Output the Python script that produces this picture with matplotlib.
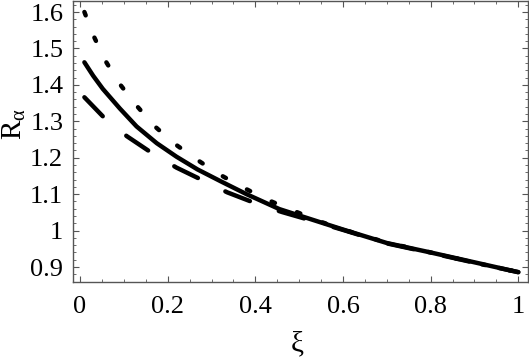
import numpy as np
import matplotlib.pyplot as plt
from matplotlib.ticker import MultipleLocator, FuncFormatter

plt.rcParams['font.family'] = ['Liberation Serif', 'DejaVu Serif']
plt.rcParams['mathtext.fontset'] = 'custom'
plt.rcParams['mathtext.rm'] = 'Liberation Serif'
plt.rcParams['mathtext.it'] = 'Liberation Serif'
plt.rcParams['lines.scale_dashes'] = False

# values
xi_dot = [0.01, 0.03, 0.057, 0.089, 0.127, 0.168, 0.214, 0.264, 0.314, 0.368,
          0.423, 0.482, 0.55, 0.6, 0.7, 0.8, 0.9, 1.0]
r_dot = [1.600, 1.537, 1.468, 1.405, 1.346, 1.289, 1.240, 1.197, 1.157, 1.121,
         1.087, 1.057, 1.024, 1.003, 0.967, 0.940, 0.912, 0.886]

xi_solid = [0.01, 0.03, 0.052, 0.091, 0.129, 0.175, 0.22, 0.268, 0.32, 0.38,
            0.455, 0.53, 0.6, 0.7, 0.8, 0.9, 1.0]
r_solid = [1.462, 1.425, 1.389, 1.335, 1.286, 1.240, 1.203, 1.168, 1.136, 1.100,
           1.059, 1.030, 1.003, 0.966, 0.940, 0.913, 0.886]

xi_dash = [0.01, 0.055, 0.107, 0.164, 0.22, 0.28, 0.336, 0.405, 0.461, 0.53,
           0.6, 0.7, 0.8, 0.9, 1.0]
r_dash = [1.366, 1.310, 1.259, 1.213, 1.173, 1.138, 1.105, 1.073, 1.051, 1.027,
          1.002, 0.965, 0.939, 0.912, 0.886]

fig = plt.figure(figsize=(5.29, 3.59), dpi=100)
ax = fig.add_axes([0.138, 0.2145, 0.860, 0.7825])

lw = 3.2
ax.plot(xi_dot, r_dot, color='black', lw=lw, solid_capstyle='round',
        dash_capstyle='round', linestyle=(0, (2.6, 17.2)))
ax.plot(xi_solid, r_solid, color='black', lw=lw, solid_capstyle='round')
ax.plot(xi_dash, r_dash, color='black', lw=lw, dash_capstyle='round',
        linestyle=(0, (19.0, 22.0)))

ax.set_xlim(-0.016, 1.022)
ax.set_ylim(0.859, 1.630)

ax.xaxis.set_major_locator(MultipleLocator(0.2))
ax.xaxis.set_minor_locator(MultipleLocator(0.05))
ax.yaxis.set_major_locator(MultipleLocator(0.1))
ax.yaxis.set_minor_locator(MultipleLocator(0.02))
fmt = FuncFormatter(lambda v, p: ('%.1f' % v).rstrip('0').rstrip('.') if abs(v) > 1e-9 else '0')
ax.xaxis.set_major_formatter(fmt)
ax.yaxis.set_major_formatter(fmt)

frame = '#555555'
for s in ax.spines.values():
    s.set_color(frame)
    s.set_linewidth(1.0)
ax.tick_params(which='both', direction='in', top=True, right=True, color=frame,
               labelsize=19)
ax.tick_params(which='major', length=4.5, width=0.8)
ax.tick_params(which='minor', length=2.5, width=0.6)
ax.tick_params(axis='x', pad=10)
ax.tick_params(axis='y', pad=7)

ax.set_xlabel(r'$\xi$', fontsize=21)
ax.set_ylabel(r'$R_{\alpha}$', fontsize=21)
ax.xaxis.set_label_coords(0.492, -0.168)
ax.yaxis.set_label_coords(-0.1, 0.56)

fig.savefig('out.png', dpi=100)
